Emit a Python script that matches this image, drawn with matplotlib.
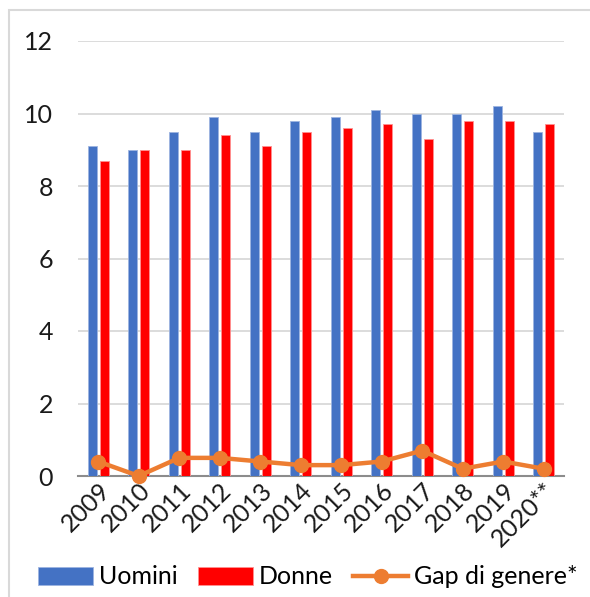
import matplotlib
matplotlib.use("Agg")
import matplotlib.pyplot as plt
import numpy as np
from matplotlib.patches import Rectangle

years = ["2009", "2010", "2011", "2012", "2013", "2014", "2015", "2016",
         "2017", "2018", "2019", "2020**"]
uomini = [9.1, 9.0, 9.5, 9.9, 9.5, 9.8, 9.9, 10.1, 10.0, 10.0, 10.2, 9.5]
donne = [8.7, 9.0, 9.0, 9.4, 9.1, 9.5, 9.6, 9.7, 9.3, 9.8, 9.8, 9.7]
gap = [0.4, 0.0, 0.5, 0.5, 0.4, 0.3, 0.3, 0.4, 0.7, 0.2, 0.4, 0.2]
yticks = [0, 2, 4, 6, 8, 10, 12]

plt.rcParams['font.family'] = ['Lato', 'DejaVu Sans']

W, H = 590, 597
fig = plt.figure(figsize=(W / 100, H / 100), dpi=100)
ax = fig.add_axes([78 / W, 1 - 476 / H, (564 - 78) / W, (476 - 41) / H])

x = np.arange(len(years))
bw = 0.23
off = 0.15
b1 = ax.bar(x - off, uomini, bw, color='#4472C4', edgecolor='#9db4e0', linewidth=0.6,
            label='Uomini', zorder=2)
b2 = ax.bar(x + off, donne, bw, color='#FF0000', edgecolor='#ff9090', linewidth=0.6,
            label='Donne', zorder=2)
l1, = ax.plot(x, gap, color='#ED7D31', lw=3.2, marker='o', markersize=10,
              label='Gap di genere*', zorder=3, clip_on=False)

ax.set_xlim(-0.5, len(years) - 0.5)
ax.set_ylim(0, 12)
ax.set_yticks(yticks)
ax.set_yticklabels([str(v) for v in yticks], fontsize=18, color='#1a1a1a')
ax.yaxis.grid(True, color='#d9d9d9', lw=1.3, zorder=0)
ax.set_axisbelow(True)
for s in ['top', 'right', 'left']:
    ax.spines[s].set_visible(False)
ax.spines['bottom'].set_color('#8c8c8c')
ax.spines['bottom'].set_linewidth(1.5)
ax.spines['bottom'].set_zorder(1)
ax.tick_params(axis='y', length=0, pad=18)
ax.tick_params(axis='x', length=0, pad=2)
ax.set_xticks(x)
ax.set_xticklabels(years, rotation=45, ha='right', rotation_mode='anchor',
                   fontsize=18, color='#1a1a1a')

fig.legend(handles=[b1, b2, l1], loc='center', bbox_to_anchor=(308 / W, 1 - 577 / H),
           ncol=3, frameon=False, fontsize=18, handlelength=2.2, columnspacing=0.8,
           handletextpad=0.25, borderaxespad=0)

fig.patches.append(Rectangle((9 / W, -0.02), 1.0, 1 - 10 / H + 0.02,
                             transform=fig.transFigure, fill=False,
                             ec='#d9d9d9', lw=1.5))

fig.savefig('out.png', dpi=100)
